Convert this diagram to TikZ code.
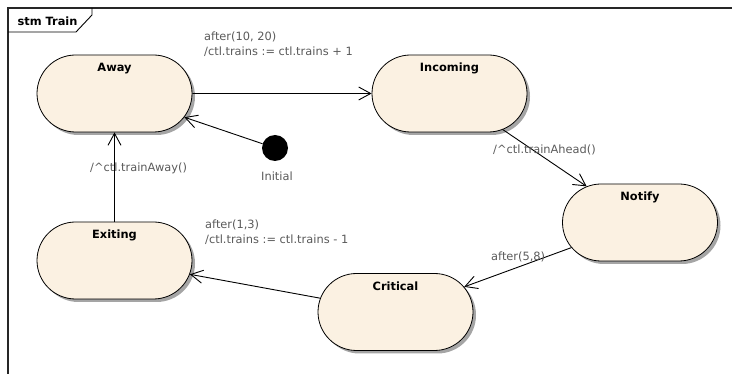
\documentclass[tikz,border=0pt]{standalone}
\usepackage{fontspec}
\setmainfont{DejaVu Sans}
\usepackage{tikz}
\usetikzlibrary{arrows.meta, shapes.misc, shadows}
\definecolor{STfill}{RGB}{251,241,226}
\definecolor{STshadow}{RGB}{165,165,165}
\definecolor{TRgrey}{RGB}{90,90,90}

\begin{document}
\begin{tikzpicture}[x=1pt, y=-1pt, font=\fontsize{11.4}{15}\selectfont,
    state/.style={rounded rectangle, draw, line width=0.8pt, fill=STfill,
      minimum width=155pt, minimum height=77pt, inner sep=0pt,
      drop shadow={shadow xshift=3pt, shadow yshift=-3pt, fill=STshadow, opacity=1}},
    sname/.style={anchor=base, yshift=-17pt, font=\fontsize{11.4}{13}\selectfont\bfseries},
    trans/.style={-{Straight Barb[length=12pt, width=13pt]}, line width=0.9pt},
    lbl/.style={text=TRgrey, align=left, inner sep=0pt}]
      \useasboundingbox (0,0) rectangle (732,374);
      % Frame
      \draw[line width=1.5pt, black!85] (8,374) -- (8,8) -- (732,8);
      \draw[line width=0.9pt] (8,32) -- (76,32) -- (92,15) -- (92,8);
      \node[anchor=west, font=\fontsize{11.4}{13}\selectfont\bfseries] (title) at (14,21) {stm Train};
      % States
      \node[state, label={[sname]north:Away}] (away) at (114.5,93.5) {};
      \node[state, label={[sname]north:Incoming}] (incoming) at (449.5,93.5) {};
      \node[state, label={[sname]north:Notify}] (notify) at (640,222.5) {};
      \node[state, label={[sname]north:Critical}] (critical) at (395.5,312) {};
      \node[state, label={[sname]north:Exiting}] (exiting) at (114.5,260.5) {};
      % Initial
      \node[circle, fill=black, minimum size=26pt, inner sep=0pt] (init) at (275,148) {};
      \node[lbl, anchor=base] (initlbl) at (277,181) {Initial};
      % Transitions
      \draw[trans] (init) -- (away);
      \draw[trans] (away) -- (incoming);
      \draw[trans] (incoming) -- (notify);
      \draw[trans] (notify) -- (critical);
      \draw[trans] (critical) -- (exiting);
      \draw[trans] (exiting) -- (away);
      \node[lbl, anchor=base west] (lblai) at (204,56) {after(10, 20)\\/ctl.trains := ctl.trains + 1};
      \node[lbl, anchor=base west] (lblin) at (493,154) {/\^{}ctl.trainAhead()};
      \node[lbl, anchor=base west] (lblnc) at (491,261) {after(5,8)};
      \node[lbl, anchor=base west] (lblce) at (205,244) {after(1,3)\\/ctl.trains := ctl.trains - 1};
      \node[lbl, anchor=base west] (lblea) at (90,172) {/\^{}ctl.trainAway()};
    \end{tikzpicture}
\end{document}
